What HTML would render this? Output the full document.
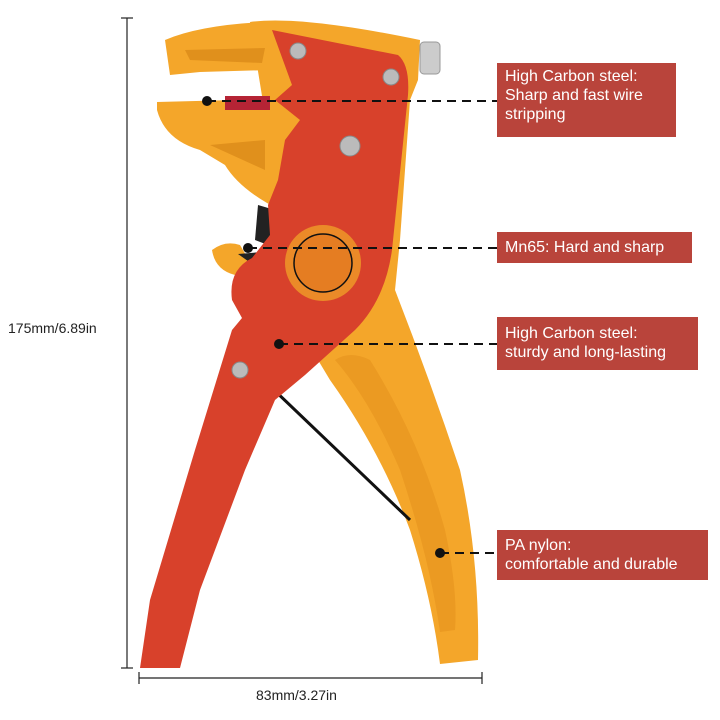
<!DOCTYPE html>
<html><head><meta charset="utf-8"><style>
html,body{margin:0;padding:0;background:#fff;width:720px;height:720px;overflow:hidden}
.b{position:absolute;background:#b9443b;color:#fff;font-family:"Liberation Sans",sans-serif;font-size:16px;line-height:19px;padding:0 8px;box-sizing:border-box}
.t{position:absolute;font-family:"Liberation Sans",sans-serif;font-size:14px;color:#222}
</style></head><body>
<svg width="720" height="720" style="position:absolute;left:0;top:0">
<!-- dimension lines -->
<g stroke="#222" stroke-width="1.2">
<line x1="127" y1="18" x2="127" y2="668"/><line x1="121" y1="18" x2="133" y2="18"/><line x1="121" y1="668" x2="133" y2="668"/>
<line x1="139" y1="678" x2="482" y2="678"/><line x1="139" y1="672" x2="139" y2="684"/><line x1="482" y1="672" x2="482" y2="684"/>
</g>
<!-- yellow back handle -->
<path d="M250 22 Q300 15 420 40 L418 80 L410 100 L400 240 L395 290 Q430 380 460 470 Q480 560 478 660 L440 664 Q432 600 410 530 Q380 450 330 380 L300 330 Z" fill="#f4a62a"/>
<path d="M335 360 Q350 350 370 360 Q420 440 445 530 Q458 590 455 630 L440 632 Q430 560 400 470 Q370 400 335 360Z" fill="#eb9a22"/>
<!-- yellow top jaw -->
<path d="M165 40 Q200 25 265 22 L290 35 L285 85 L270 70 L200 72 L170 75 Z" fill="#f4a62a"/>
<path d="M185 50 L265 48 L262 63 L190 60Z" fill="#e0901c"/>
<!-- yellow lower jaw -->
<path d="M157 102 L235 100 L285 105 L290 190 L280 210 Q240 190 225 165 L200 150 Q165 140 157 110Z" fill="#f4a62a"/>
<path d="M210 145 L265 140 L265 170 Z" fill="#e0901c"/>
<rect x="225" y="96" width="45" height="14" fill="#b52435"/>
<!-- small yellow front -->
<path d="M212 250 Q225 240 240 245 L250 262 L235 275 Q215 270 212 250Z" fill="#f4a62a"/>
<path d="M258 205 L275 210 L268 245 L255 240 Z" fill="#222"/>
<path d="M238 254 L262 252 L255 266 Z" fill="#222"/>
<!-- wire -->
<line x1="272" y1="388" x2="410" y2="520" stroke="#111" stroke-width="3"/>
<!-- red body -->
<path d="M272 30 L398 55 Q410 65 408 95 L392 250 Q385 300 355 330 L305 375 L275 400 L245 470 L200 590 L180 668 L140 668 L150 600 L195 450 L232 330 L242 318 L232 300 Q228 270 252 258 L270 235 L268 205 L278 180 L285 140 L300 120 L275 100 L292 85 Z" fill="#d8412b"/>
<!-- orange disc -->
<circle cx="323" cy="263" r="38" fill="#eb8a28"/>
<circle cx="323" cy="263" r="29" fill="#e57d22" stroke="#111" stroke-width="1.5"/>
<!-- screws -->
<g fill="#bbb" stroke="#888"><circle cx="298" cy="51" r="8"/><circle cx="391" cy="77" r="8"/><circle cx="350" cy="146" r="10"/><circle cx="240" cy="370" r="8"/></g>
<rect x="420" y="42" width="20" height="32" rx="4" fill="#ccc" stroke="#999"/>
<!-- dots & dashed leaders -->
<g stroke="#111" stroke-width="2" stroke-dasharray="9,6">
<line x1="207" y1="101" x2="497" y2="101"/><line x1="248" y1="248" x2="497" y2="248"/>
<line x1="279" y1="344" x2="497" y2="344"/><line x1="440" y1="553" x2="497" y2="553"/>
</g>
<g fill="#111"><circle cx="207" cy="101" r="5"/><circle cx="248" cy="248" r="5"/><circle cx="279" cy="344" r="5"/><circle cx="440" cy="553" r="5"/></g>
</svg>
<div class="b" style="left:497px;top:63px;width:179px;height:74px;padding-top:4px">High Carbon steel:<br>Sharp and fast wire<br>stripping</div>
<div class="b" style="left:497px;top:232px;width:195px;height:31px;padding-top:6px">Mn65: Hard and sharp</div>
<div class="b" style="left:497px;top:317px;width:201px;height:53px;padding-top:7px">High Carbon steel:<br>sturdy and long-lasting</div>
<div class="b" style="left:497px;top:530px;width:211px;height:50px;padding-top:6px">PA nylon:<br>comfortable and durable</div>
<div class="t" style="left:8px;top:320px">175mm/6.89in</div>
<div class="t" style="left:256px;top:687px">83mm/3.27in</div>
</body></html>
